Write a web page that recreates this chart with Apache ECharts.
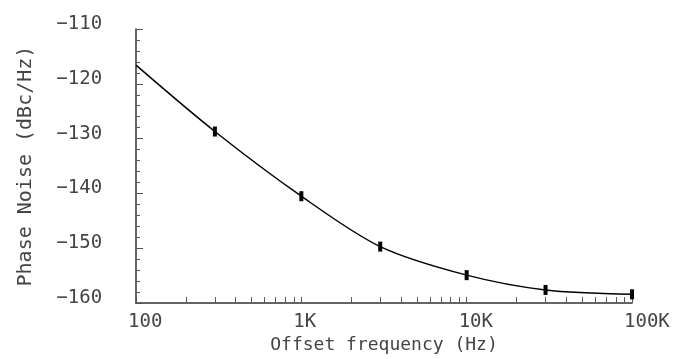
<!DOCTYPE html>
<html>
<head>
<meta charset="utf-8">
<script src="https://cdn.jsdelivr.net/npm/echarts@6/dist/echarts.min.js"></script>
<style>
  html, body { margin: 0; padding: 0; background: #fff; }
  #chart { width: 674px; height: 359px; }
</style>
</head>
<body>
<div id="chart"></div>
<script>
// offset frequency (Hz) and phase noise (dBc/Hz)
const offsetFreq = [100, 300, 1000, 3000, 10000, 30000, 100000];
const phaseNoise = [-116.6, -128.7, -140.5, -149.7, -154.9, -157.6, -158.4];
// frequencies that carry a marker
const markedFreq = [300, 1000, 3000, 10000, 30000, 100000];
const xTickLabels = { 100: '100', 1000: '1K', 10000: '10K', 100000: '100K' };

// log ticks at 1..9 x each decade
const xTicks = [];
[100, 1000, 10000].forEach(function (d) {
  for (let k = 1; k < 10; k++) xTicks.push(d * k);
});
xTicks.push(100000);

const FONT = 'DejaVu Sans Mono';
const TEXT = '#444';

function setNoiseChart() {
  const chart = echarts.init(document.querySelector('#chart'));

  const points = offsetFreq.map(function (f, i) {
    return {
      value: [f, phaseNoise[i]],
      symbol: markedFreq.indexOf(f) >= 0 ? 'rect' : 'none'
    };
  });

  const option = {
    animation: false,
    grid: { left: 136, right: 42, top: 29, bottom: 54 },
    xAxis: {
      type: 'log',
      min: 100,
      max: 100000,
      name: 'Offset frequency (Hz)',
      nameLocation: 'middle',
      nameGap: 30,
      nameTextStyle: { fontFamily: FONT, fontSize: 18, color: TEXT },
      axisLine: { lineStyle: { color: '#333', width: 1.5 } },
      axisTick: { inside: true, length: 6, lineStyle: { color: '#555' }, customValues: xTicks },
      axisLabel: {
        fontFamily: FONT, fontSize: 19, color: TEXT, margin: 9,
        align: 'left', padding: [0, 0, 0, -8],
        formatter: function (v) { return xTickLabels[v] || ''; }
      },
      splitLine: { show: false }
    },
    yAxis: {
      type: 'value',
      min: -160,
      max: -110,
      interval: 10,
      name: 'Phase Noise (dBc/Hz)',
      nameLocation: 'middle',
      nameGap: 100,
      nameTextStyle: { fontFamily: FONT, fontSize: 20, color: TEXT },
      axisLine: { show: true, lineStyle: { color: '#333', width: 1.5 } },
      axisTick: { show: true, inside: true, length: 7, lineStyle: { color: '#555' } },
      minorTick: { show: true, splitNumber: 5, length: 4, lineStyle: { color: '#555' } },
      axisLabel: {
        fontFamily: FONT, fontSize: 19, color: TEXT, margin: 11,
        verticalAlign: 'bottom', lineHeight: 10,
        // trailing blanks push the right-aligned label away from the axis
        formatter: function (v) { return String(v).replace('-', '\u2212') + '\u00a0\u00a0'; }
      },
      splitLine: { show: false }
    },
    series: [{
      type: 'line',
      data: points,
      smooth: 0.3,
      symbolSize: [4, 10],
      showAllSymbol: true,
      lineStyle: { color: '#000', width: 1.5 },
      itemStyle: { color: '#000' }
    }]
  };

  chart.setOption(option);
}

setNoiseChart();
</script>
</body>
</html>
